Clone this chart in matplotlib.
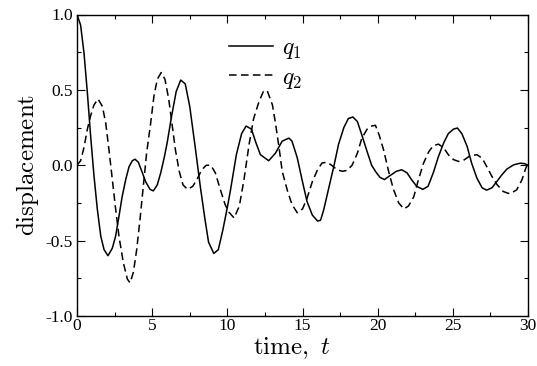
import matplotlib
matplotlib.use("Agg")
import matplotlib.pyplot as plt
from matplotlib.ticker import MultipleLocator

# values
t1 = [0, 0.24, 0.47, 0.69, 0.91, 1.13, 1.35, 1.58, 1.8, 2.06, 2.35, 2.57, 2.79, 3.0,
      3.24, 3.46, 3.68, 3.86, 4.08, 4.35, 4.57, 4.86, 5.08, 5.34, 5.57, 5.8, 6.0, 6.3,
      6.6, 6.9, 7.2, 7.5, 7.85, 8.2, 8.5, 8.75, 9.1, 9.4, 9.7, 10.0, 10.2, 10.6, 10.95,
      11.25, 11.6, 11.9, 12.2, 12.75, 13.2, 13.65, 14.1, 14.3, 14.65, 15.0, 15.3, 15.65,
      16.0, 16.2, 16.4, 16.75, 17.1, 17.4, 17.75, 18.05, 18.35, 18.65, 18.95, 19.3, 19.6,
      19.85, 20.15, 20.45, 20.8, 21.25, 21.6, 21.95, 22.25, 22.6, 23.0, 23.35, 23.7,
      24.05, 24.4, 24.7, 25.05, 25.3, 25.6, 25.95, 26.25, 26.6, 26.95, 27.25, 27.6,
      27.95, 28.25, 28.6, 29.05, 29.5, 29.8, 30.0]
q1 = [1.0, 0.93, 0.74, 0.48, 0.19, -0.07, -0.29, -0.47, -0.56, -0.60, -0.55, -0.47,
      -0.34, -0.21, -0.095, -0.01, 0.03, 0.04, 0.02, -0.05, -0.11, -0.16, -0.17, -0.13,
      -0.05, 0.05, 0.15, 0.33, 0.49, 0.565, 0.54, 0.39, 0.13, -0.14, -0.35, -0.51,
      -0.585, -0.56, -0.43, -0.28, -0.17, 0.07, 0.21, 0.26, 0.24, 0.15, 0.07, 0.03,
      0.08, 0.16, 0.18, 0.16, 0.05, -0.11, -0.24, -0.33, -0.37, -0.365, -0.30, -0.15,
      0.0, 0.14, 0.25, 0.31, 0.32, 0.29, 0.20, 0.09, 0.0, -0.04, -0.08, -0.095, -0.07,
      -0.04, -0.03, -0.05, -0.095, -0.14, -0.16, -0.14, -0.05, 0.06, 0.15, 0.21, 0.24,
      0.247, 0.21, 0.125, 0.014, -0.085, -0.15, -0.165, -0.15, -0.105, -0.065, -0.025,
      0.003, 0.014, 0.01, 0.0]

t2 = [0, 0.24, 0.47, 0.69, 0.91, 1.13, 1.4, 1.69, 1.91, 2.13, 2.35, 2.57, 2.79, 3.08,
      3.35, 3.53, 3.75, 3.97, 4.19, 4.41, 4.63, 4.9, 5.12, 5.34, 5.6, 5.85, 6.1, 6.3,
      6.55, 6.8, 7.05, 7.35, 7.7, 8.0, 8.3, 8.6, 8.9, 9.2, 9.5, 9.85, 10.1, 10.45, 10.8,
      11.1, 11.45, 11.75, 12.1, 12.4, 12.65, 13.0, 13.2, 13.45, 13.65, 14.0, 14.3,
      14.65, 15.0, 15.3, 15.65, 16.0, 16.3, 16.65, 17.0, 17.3, 17.65, 17.95, 18.3,
      18.65, 18.95, 19.3, 19.6, 19.85, 20.1, 20.4, 20.7, 21.05, 21.4, 21.75, 22.05,
      22.4, 22.7, 23.05, 23.4, 23.7, 24.05, 24.4, 24.7, 25.05, 25.4, 25.7, 26.15, 26.6,
      26.95, 27.25, 27.6, 27.95, 28.35, 28.8, 29.25, 29.6, 29.85, 30.0]
q2 = [0.0, 0.03, 0.12, 0.24, 0.33, 0.40, 0.44, 0.39, 0.28, 0.10, -0.095, -0.29, -0.47,
      -0.645, -0.755, -0.78, -0.71, -0.56, -0.36, -0.14, 0.08, 0.28, 0.46, 0.57, 0.615,
      0.57, 0.44, 0.29, 0.10, -0.04, -0.13, -0.16, -0.14, -0.09, -0.03, 0.0, 0.0, -0.05,
      -0.15, -0.26, -0.31, -0.35, -0.27, -0.10, 0.14, 0.31, 0.42, 0.49, 0.495, 0.40,
      0.28, 0.11, -0.04, -0.17, -0.26, -0.315, -0.29, -0.22, -0.11, -0.03, 0.015, 0.02,
      -0.005, -0.03, -0.04, -0.035, 0.0, 0.08, 0.18, 0.24, 0.26, 0.265, 0.20, 0.10,
      -0.03, -0.16, -0.25, -0.29, -0.27, -0.21, -0.10, 0.014, 0.09, 0.13, 0.14, 0.114,
      0.07, 0.037, 0.025, 0.032, 0.063, 0.07, 0.047, -0.008, -0.074, -0.13, -0.174,
      -0.19, -0.163, -0.096, -0.02, 0.01]

xticks = [0, 5, 10, 15, 20, 25, 30]
yticks = [-1.0, -0.5, 0.0, 0.5, 1.0]

plt.rcParams['mathtext.fontset'] = 'cm'
plt.rcParams['axes.unicode_minus'] = False

fig = plt.figure(figsize=(5.37, 3.66), dpi=100)
ax = fig.add_axes([77/537, 1-316/366, 451/537, 301.5/366])

ax.plot(t1, q1, color='black', lw=1.1, label=r'$q_1$')
ax.plot(t2, q2, color='black', lw=1.1, dashes=(5, 2.8), label=r'$q_2$')

ax.set_xlim(0, 30)
ax.set_ylim(-1, 1)
ax.set_xticks(xticks)
ax.set_yticks(yticks)
ax.xaxis.set_minor_locator(MultipleLocator(2.5))
ax.yaxis.set_minor_locator(MultipleLocator(0.25))
ax.tick_params(which='both', direction='in', top=True, right=True, width=0.8)
ax.tick_params(which='major', length=5.8)
ax.tick_params(which='minor', length=2.9)
ax.tick_params(axis='x', pad=1.5)
ax.tick_params(axis='y', pad=3)
for lab in ax.get_xticklabels() + ax.get_yticklabels():
    lab.set_family('Liberation Serif')
    lab.set_fontsize(12.5)
for s in ax.spines.values():
    s.set_linewidth(1.0)

ax.set_xlabel(r'$\mathrm{time,}\ t$', fontsize=18, labelpad=0)
ax.xaxis.set_label_coords(0.475, -0.065)
ax.set_ylabel(r'$\mathrm{displacement}$', fontsize=18, labelpad=3)

ax.legend(loc='upper left', bbox_to_anchor=(0.316, 0.963), frameon=False,
          fontsize=17, handlelength=1.85, handletextpad=0.4, labelspacing=0.15,
          borderaxespad=0)

fig.savefig('out.png', dpi=100)
